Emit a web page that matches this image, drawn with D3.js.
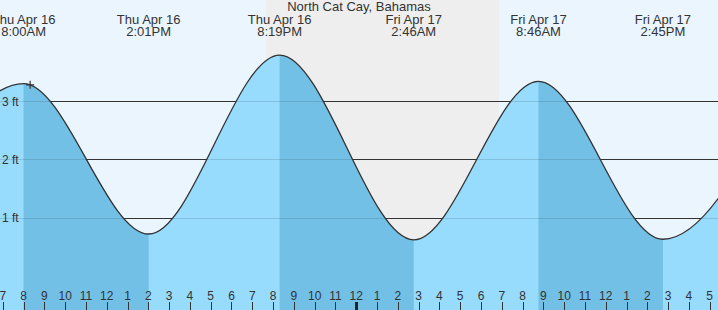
<!DOCTYPE html>
<html>
<head>
<meta charset="utf-8">
<script src="https://cdn.jsdelivr.net/npm/d3@7"></script>
<style>
  html, body { margin: 0; padding: 0; background: #fff; }
  svg { display: block; }
  text { font-family: "Liberation Sans", Arial, sans-serif; fill: #333; }
</style>
</head>
<body>
<script>
// tide extremes (first and last lie just off the chart)
const tideTimes = ["2026-04-16T01:45", "2026-04-16T08:00", "2026-04-16T14:01", "2026-04-16T20:19",
                   "2026-04-17T02:46", "2026-04-17T08:46", "2026-04-17T14:45", "2026-04-17T21:05"];
const tideHeights = [0.70, 3.30, 0.72, 3.79, 0.62, 3.34, 0.63, 3.70];
const labelDays = ["", "Thu Apr 16", "Thu Apr 16", "Thu Apr 16", "Fri Apr 17", "Fri Apr 17", "Fri Apr 17", ""];
const labelTimes = ["", "8:00AM", "2:01PM", "8:19PM", "2:46AM", "8:46AM", "2:45PM", ""];
const nightRange = ["2026-04-16T19:40", "2026-04-17T06:52"];
const gridFeet = [1, 2, 3];
const nowTime = "2026-04-16T08:19";
const nowHeight = 3.28;
const title = "North Cat Cay, Bahamas";

const W = 718, H = 310;
const parse = s => new Date(s + ":00Z");

const tides = tideTimes.map((t, i) => ({
  date: parse(t), h: tideHeights[i], day: labelDays[i], time: labelTimes[i]
}));

const x = d3.scaleUtc()
  .domain([parse("2026-04-16T06:52"), parse("2026-04-17T17:24")])
  .range([0, W]);
const y = d3.scaleLinear().domain([0, 4]).range([276, 42.8]);

const svg = d3.select("body").append("svg")
  .attr("width", W)
  .attr("height", H);

// day / night background
svg.append("rect").attr("width", W).attr("height", H).attr("fill", "#ebf5fe");
svg.append("rect")
  .attr("x", x(parse(nightRange[0])))
  .attr("width", x(parse(nightRange[1])) - x(parse(nightRange[0])))
  .attr("height", H)
  .attr("fill", "#eeeeee");

// grid lines behind the water
svg.append("g").selectAll("line")
  .data(gridFeet).enter().append("line")
  .attr("x1", 0).attr("x2", W)
  .attr("y1", d => Math.round(y(d)) + 0.5).attr("y2", d => Math.round(y(d)) + 0.5)
  .attr("stroke", "#333").attr("stroke-width", 1);

const area = d3.area()
  .x(d => x(d.date))
  .y0(H)
  .y1(d => y(d.h))
  .curve(d3.curveMonotoneX);
const line = d3.line()
  .x(d => x(d.date))
  .y(d => y(d.h))
  .curve(d3.curveMonotoneX);

svg.append("clipPath").attr("id", "water")
  .append("path").attr("d", area(tides));

const water = svg.append("g").attr("clip-path", "url(#water)");
water.append("rect").attr("width", W).attr("height", H).attr("fill", "#97dbfd");
// falling tide segments are darker
water.selectAll("rect.fall")
  .data(d3.pairs(tides).filter(p => p[0].h > p[1].h))
  .enter().append("rect")
  .attr("class", "fall")
  .attr("x", p => x(p[0].date))
  .attr("width", p => x(p[1].date) - x(p[0].date))
  .attr("height", H)
  .attr("fill", "#72c0e6");
water.selectAll("line")
  .data(gridFeet).enter().append("line")
  .attr("x1", 0).attr("x2", W)
  .attr("y1", d => Math.round(y(d)) + 0.5).attr("y2", d => Math.round(y(d)) + 0.5)
  .attr("stroke", "#000").attr("stroke-opacity", 0.12);

svg.append("path")
  .attr("d", line(tides))
  .attr("fill", "none")
  .attr("stroke", "#333")
  .attr("stroke-width", 1.3);

// current time marker
const nx = x(parse(nowTime)), ny = y(nowHeight);
svg.append("path")
  .attr("d", `M${nx - 4},${ny}H${nx + 4}M${nx},${ny - 4}V${ny + 4}`)
  .attr("stroke", "#333").attr("stroke-width", 1.2);

// y labels
svg.append("g").selectAll("text")
  .data(gridFeet).enter().append("text")
  .attr("x", 2).attr("y", d => y(d) + 4.5)
  .attr("font-size", 12)
  .text(d => d + " ft");

// title and extreme labels
svg.append("text")
  .attr("x", 359).attr("y", 11)
  .attr("text-anchor", "middle").attr("font-size", 13)
  .text(title);

const lab = svg.append("g").selectAll("text")
  .data(tides.filter(d => d.day)).enter().append("text")
  .attr("text-anchor", "middle").attr("font-size", 13);
lab.append("tspan").attr("x", d => x(d.date)).attr("y", 24).text(d => d.day);
lab.append("tspan").attr("x", d => x(d.date)).attr("y", 36).text(d => d.time);

// hour axis along the bottom
const hours = x.ticks(d3.utcHour.every(1));
const hAxis = svg.append("g");
hAxis.selectAll("line")
  .data(hours).enter().append("line")
  .attr("x1", d => Math.round(x(d)) + 0.5).attr("x2", d => Math.round(x(d)) + 0.5)
  .attr("y1", 302).attr("y2", H)
  .attr("stroke", d => d.getUTCHours() === 0 ? "#222" : "#333")
  .attr("stroke-width", d => d.getUTCHours() === 0 ? 3 : 1);
hAxis.selectAll("text")
  .data(hours).enter().append("text")
  .attr("x", d => x(d)).attr("y", 300)
  .attr("text-anchor", "middle").attr("font-size", 12)
  .text(d => d.getUTCHours() % 12 === 0 ? 12 : d.getUTCHours() % 12);
</script>
</body>
</html>
